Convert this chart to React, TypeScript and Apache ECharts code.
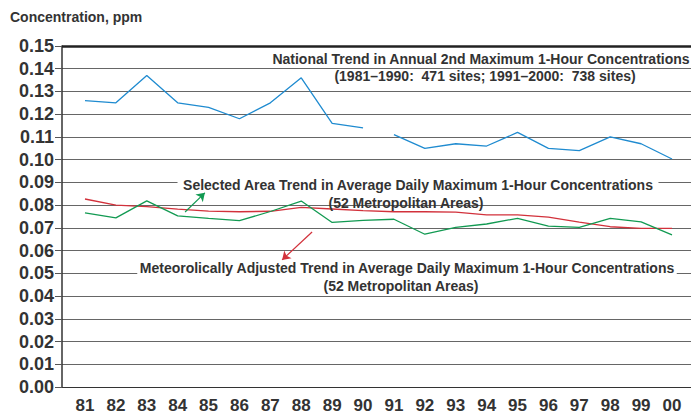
import React, { useEffect, useRef } from "react";
import * as echarts from "echarts";

const years = [81, 82, 83, 84, 85, 86, 87, 88, 89, 90, 91, 92, 93, 94, 95, 96, 97, 98, 99, 100];
const yearLabels = ["81", "82", "83", "84", "85", "86", "87", "88", "89", "90", "91", "92", "93", "94", "95", "96", "97", "98", "99", "00"];

const nationalTrend = [0.126, 0.125, 0.137, 0.125, 0.123, 0.118, 0.125, 0.136, 0.116, 0.114,
  0.111, 0.105, 0.107, 0.106, 0.112, 0.105, 0.104, 0.110, 0.107, 0.1003];
const selectedAreaTrend = [0.0766, 0.0744, 0.0819, 0.0753, 0.0742, 0.0732, 0.0772, 0.0818, 0.0724, 0.0733,
  0.0738, 0.0672, 0.0702, 0.0717, 0.0742, 0.0708, 0.0702, 0.0742, 0.0726, 0.0669];
const meteoAdjustedTrend = [0.0827, 0.0800, 0.0793, 0.0782, 0.0774, 0.0771, 0.0773, 0.0790, 0.0783, 0.0776,
  0.0771, 0.0771, 0.0769, 0.0757, 0.0757, 0.0747, 0.0725, 0.0705, 0.0698, 0.0698];

const FONT = "'Liberation Sans', Arial, Helvetica, sans-serif";
const TXT = "#333333";
const ANN = 14;

export default function App() {
  const ref = useRef<HTMLDivElement>(null);
  useEffect(() => {
    if (!ref.current) return;
    const chart = echarts.init(ref.current, null, { renderer: "svg" });
    const pairs = (vals: number[], from: number, to: number) =>
      years.slice(from, to).map((y, i) => [y, vals[from + i]]);
    const labelFor = (v: number) => {
      const i = years.indexOf(Math.round(v));
      return i >= 0 ? yearLabels[i] : "";
    };
    chart.setOption({
      animation: false,
      backgroundColor: "#ffffff",
      grid: { left: 62, right: 0, top: 46, bottom: 28 },
      xAxis: {
        type: "value",
        min: 80.256,
        max: 100.615,
        axisLine: { show: true, lineStyle: { color: "#333", width: 1 } },
        axisTick: { show: false },
        splitLine: { show: false },
        axisLabel: {
          customValues: years,
          formatter: (v: number) => labelFor(v),
          fontFamily: "'Liberation Sans Narrow', 'Arial Narrow', 'Liberation Sans', Arial, sans-serif",
          fontWeight: "bold",
          fontSize: 17,
          color: TXT,
          margin: 10,
        },
      },
      yAxis: {
        type: "value",
        min: 0,
        max: 0.15,
        interval: 0.01,
        axisLine: { show: true, lineStyle: { color: "#333", width: 1.5 } },
        axisTick: { show: true, length: 7, lineStyle: { color: "#555" } },
        splitLine: { show: true, lineStyle: { color: "#666", width: 1 } },
        axisLabel: {
          formatter: (v: number) => v.toFixed(2),
          fontFamily: FONT,
          fontWeight: "bold",
          fontSize: 18,
          color: TXT,
          margin: 8,
        },
      },
      series: [
        {
          type: "line",
          data: pairs(nationalTrend, 0, 10),
          showSymbol: false,
          lineStyle: { color: "#1f8bd0", width: 1.3 },
          markLine: {
            silent: true,
            symbol: "none",
            label: { show: false },
            lineStyle: { color: "#222", width: 2.5, type: "solid" },
            data: [{ yAxis: 0.15 }],
          },
        },
        {
          type: "line",
          data: pairs(nationalTrend, 10, 20),
          showSymbol: false,
          lineStyle: { color: "#1f8bd0", width: 1.3 },
        },
        {
          type: "line",
          data: pairs(meteoAdjustedTrend, 0, 20),
          showSymbol: false,
          lineStyle: { color: "#d2313b", width: 1.3 },
          markLine: {
            silent: true,
            symbol: ["none", "arrow"],
            symbolSize: 8,
            label: { show: false },
            lineStyle: { color: "#d2313b", width: 1.2, type: "solid" },
            data: [[{ coord: [88.35, 0.0682] }, { coord: [87.38, 0.0559] }]],
          },
        },
        {
          type: "line",
          data: pairs(selectedAreaTrend, 0, 20),
          showSymbol: false,
          lineStyle: { color: "#129a52", width: 1.3 },
          markLine: {
            silent: true,
            symbol: ["none", "arrow"],
            symbolSize: 8,
            label: { show: false },
            lineStyle: { color: "#129a52", width: 1.2, type: "solid" },
            data: [[{ coord: [84.24, 0.077] }, { coord: [84.88, 0.0854] }]],
          },
        },
      ],
      graphic: [
        {
          type: "text", left: 10, top: 10,
          style: { text: "Concentration, ppm", fontFamily: FONT, fontWeight: "bold", fontSize: 14, fill: TXT },
        },
        {
          type: "text", x: 481, y: 59,
          style: { text: "National Trend in Annual 2nd Maximum 1-Hour Concentrations", fontFamily: FONT, fontWeight: "bold", fontSize: ANN, fill: TXT, align: "center", verticalAlign: "middle" },
        },
        {
          type: "text", x: 485, y: 76,
          style: { text: "(1981\u20131990:  471 sites; 1991\u20132000:  738 sites)", fontFamily: FONT, fontWeight: "bold", fontSize: ANN, fill: TXT, align: "center", verticalAlign: "middle" },
        },
        {
          type: "text", x: 418, y: 185, z: 10,
          style: { text: "Selected Area Trend in Average Daily Maximum 1-Hour Concentrations", fontFamily: FONT, fontWeight: "bold", fontSize: ANN, fill: TXT, align: "center", verticalAlign: "middle", backgroundColor: "#ffffff", padding: [0, 5] },
        },
        {
          type: "text", x: 406, y: 203, z: 10,
          style: { text: "(52 Metropolitan Areas)", fontFamily: FONT, fontWeight: "bold", fontSize: ANN, fill: TXT, align: "center", verticalAlign: "middle" },
        },
        {
          type: "text", x: 407, y: 268, z: 10,
          style: { text: "Meteorolically Adjusted Trend in Average Daily Maximum 1-Hour Concentrations", fontFamily: FONT, fontWeight: "bold", fontSize: ANN, fill: TXT, align: "center", verticalAlign: "middle", backgroundColor: "#ffffff", padding: [0, 2] },
        },
        {
          type: "text", x: 401, y: 286, z: 10,
          style: { text: "(52 Metropolitan Areas)", fontFamily: FONT, fontWeight: "bold", fontSize: ANN, fill: TXT, align: "center", verticalAlign: "middle" },
        },
      ],
    });
    return () => chart.dispose();
  }, []);
  return <div ref={ref} style={{ position: "fixed", left: 0, top: 0, width: 691, height: 415 }} />;
}
